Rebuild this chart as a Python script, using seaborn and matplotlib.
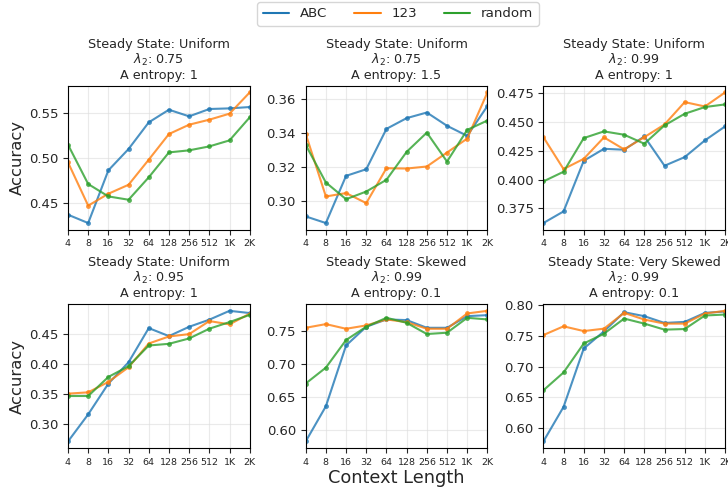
import numpy as np
import pandas as pd
import matplotlib
matplotlib.use("Agg")
import matplotlib.pyplot as plt
import seaborn as sns
from matplotlib.lines import Line2D

context = [4, 8, 16, 32, 64, 128, 256, 512, 1024, 2048]
tick_labels = ["4", "8", "16", "32", "64", "128", "256", "512", "1K", "2K"]
methods = ["ABC", "123", "random"]

titles = [
    "Steady State: Uniform\n$\\lambda_2$: 0.75\nA entropy: 1",
    "Steady State: Uniform\n$\\lambda_2$: 0.75\nA entropy: 1.5",
    "Steady State: Uniform\n$\\lambda_2$: 0.99\nA entropy: 1",
    "Steady State: Uniform\n$\\lambda_2$: 0.95\nA entropy: 1",
    "Steady State: Skewed\n$\\lambda_2$: 0.99\nA entropy: 0.1",
    "Steady State: Very Skewed\n$\\lambda_2$: 0.99\nA entropy: 0.1",
]

# panel 1
p1_abc = [0.4366, 0.4273, 0.4861, 0.5099, 0.5396, 0.5537, 0.5463, 0.5545, 0.5552, 0.5567]
p1_123 = [0.4950, 0.4467, 0.4600, 0.4700, 0.4980, 0.5266, 0.5370, 0.5426, 0.5493, 0.5730]
p1_rnd = [0.5147, 0.4708, 0.4570, 0.4533, 0.4783, 0.5061, 0.5084, 0.5128, 0.5195, 0.5452]
# panel 2
p2_abc = [0.2912, 0.2873, 0.3150, 0.3189, 0.3426, 0.3489, 0.3522, 0.3444, 0.3385, 0.3560]
p2_123 = [0.3397, 0.3029, 0.3049, 0.2990, 0.3195, 0.3193, 0.3205, 0.3287, 0.3369, 0.3640]
p2_rnd = [0.3332, 0.3111, 0.3013, 0.3058, 0.3127, 0.3291, 0.3404, 0.3234, 0.3420, 0.3475]
# panel 3
p3_abc = [0.3623, 0.3724, 0.4163, 0.4267, 0.4259, 0.4374, 0.4120, 0.4195, 0.4340, 0.4461]
p3_123 = [0.4368, 0.4091, 0.4180, 0.4366, 0.4262, 0.4368, 0.4478, 0.4672, 0.4634, 0.4756]
p3_rnd = [0.3984, 0.4068, 0.4360, 0.4418, 0.4389, 0.4311, 0.4470, 0.4571, 0.4629, 0.4652]
# panel 4
p4_abc = [0.2717, 0.3167, 0.3678, 0.4033, 0.4600, 0.4467, 0.4622, 0.4740, 0.4887, 0.4850]
p4_123 = [0.3511, 0.3533, 0.3706, 0.3950, 0.4344, 0.4461, 0.4500, 0.4717, 0.4662, 0.4840]
p4_rnd = [0.3472, 0.3472, 0.3789, 0.3967, 0.4311, 0.4339, 0.4428, 0.4590, 0.4700, 0.4820]
# panel 5
p5_abc = [0.5821, 0.6356, 0.7281, 0.7566, 0.7677, 0.7667, 0.7550, 0.7550, 0.7727, 0.7742]
p5_123 = [0.7550, 0.7606, 0.7535, 0.7586, 0.7677, 0.7636, 0.7535, 0.7535, 0.7768, 0.7808]
p5_rnd = [0.6702, 0.6944, 0.7364, 0.7566, 0.7702, 0.7626, 0.7455, 0.7475, 0.7702, 0.7677]
# panel 6
p6_abc = [0.5782, 0.6344, 0.7293, 0.7571, 0.7883, 0.7818, 0.7708, 0.7725, 0.7872, 0.7894]
p6_123 = [0.7511, 0.7653, 0.7576, 0.7615, 0.7872, 0.7763, 0.7697, 0.7697, 0.7861, 0.7905]
p6_rnd = [0.6613, 0.6903, 0.7374, 0.7533, 0.7779, 0.7697, 0.7599, 0.7609, 0.7829, 0.7845]

panels = [
    (p1_abc, p1_123, p1_rnd),
    (p2_abc, p2_123, p2_rnd),
    (p3_abc, p3_123, p3_rnd),
    (p4_abc, p4_123, p4_rnd),
    (p5_abc, p5_123, p5_rnd),
    (p6_abc, p6_123, p6_rnd),
]

sns.set_style("ticks")
plt.rcParams['font.family'] = ['DejaVu Sans']

palette = {"ABC": "#1f77b4", "123": "#ff7f0e", "random": "#2ca02c"}

fig, axes = plt.subplots(2, 3, figsize=(7.28, 4.88), dpi=100)
fig.subplots_adjust(left=0.0934, right=0.996, bottom=0.082, top=0.824,
                    wspace=0.308, hspace=0.52)

for i, ax in enumerate(axes.flat):
    rows = []
    for m, vals in zip(methods, panels[i]):
        for c, v in zip(context, vals):
            rows.append({"context": c, "acc": v, "method": m})
    df = pd.DataFrame(rows)
    sns.lineplot(data=df, x="context", y="acc", hue="method", hue_order=methods,
                 palette=palette, marker="o", markersize=3.5, markeredgewidth=0,
                 linewidth=1.5, alpha=0.8, ax=ax, legend=False)
    ax.set_xscale("log", base=2)
    ax.set_xlim(4, 2048)
    ax.set_xticks(context)
    ax.set_xticklabels(tick_labels, fontsize=6.8)
    ax.minorticks_off()
    ax.tick_params(axis="y", labelsize=9.5)
    ax.grid(True, color="#dddddd", alpha=0.6, linewidth=0.8)
    ax.set_title(titles[i], fontsize=9.2, linespacing=1.1, pad=5)
    ax.set_xlabel("")
    ax.set_ylabel("")
    for s in ax.spines.values():
        s.set_color("black")
        s.set_linewidth(0.8)

for r in range(2):
    axes[r, 0].set_ylabel("Accuracy", fontsize=11.8)
    axes[r, 0].yaxis.set_label_coords(-0.24, 0.5)
axes[1, 1].set_xlabel("Context Length", fontsize=12.8, labelpad=2)

handles = [Line2D([0], [0], color=palette[m], lw=1.5) for m in methods]
fig.legend(handles, methods, loc="upper center", ncol=3, fontsize=9.6,
           bbox_to_anchor=(0.5467, 1.004), frameon=True, columnspacing=2.0,
           borderaxespad=0.3)

fig.savefig("out.png", dpi=100)
